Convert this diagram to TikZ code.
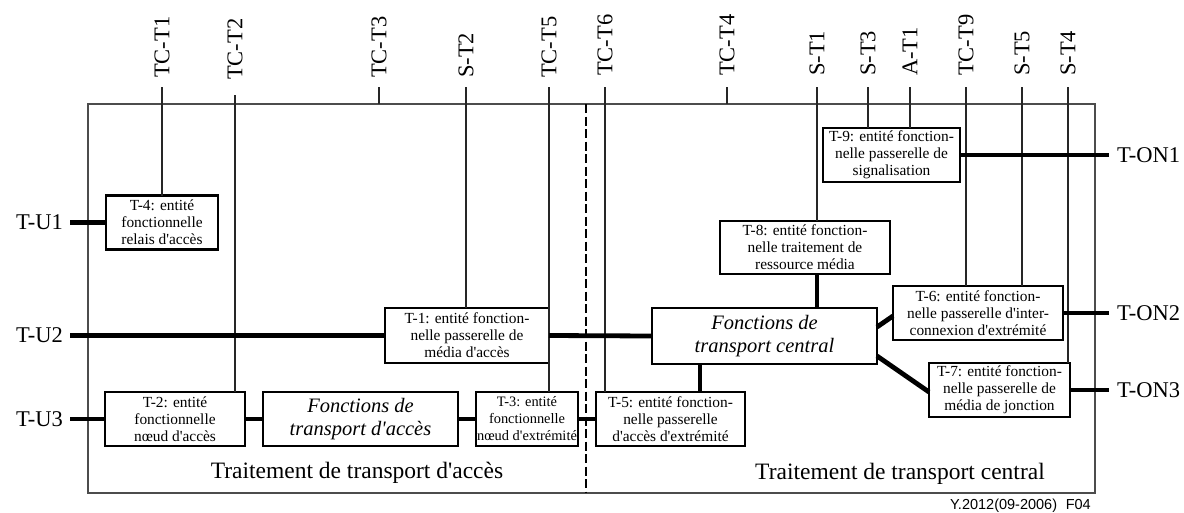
\documentclass[tikz,border=0pt]{standalone}
\usepackage{fontspec}
\setmainfont{Liberation Serif}[Ligatures=TeXOff]
\newfontfamily\figsans{Liberation Sans}[Ligatures=TeXOff]
\begin{document}
\begin{tikzpicture}[x=1pt,y=-1pt,
  thinwire/.style={line width=1.2pt, black!85},
  framewire/.style={line width=1.2pt, black!70},
  thickwire/.style={line width=4.8pt},
  divider/.style={line width=2.4pt, dash pattern=on 9pt off 3.5pt},
  fbox/.style={draw, line width=2.6pt, fill=white, inner sep=0pt, outer sep=0pt,
    align=center, minimum height=54pt, font=\fontsize{15.4}{17}\selectfont},
  tbox/.style={fbox, font=\itshape\fontsize{20.5}{22.5}\selectfont},
  toplabel/.style={rotate=90, anchor=west, inner sep=0pt, font=\fontsize{22.5}{24}\selectfont},
  sidelabel/.style={inner sep=0pt, font=\fontsize{22.5}{24}\selectfont},
  arealabel/.style={inner sep=0pt, font=\fontsize{23.5}{26}\selectfont}
]
\useasboundingbox (0,0) rectangle (1184,512);

% outer frame and the access/core divider
\coordinate (fnw) at (88,104);
\coordinate (fse) at (1095,493);
\draw[framewire] (fnw) rectangle (fse);
\coordinate (dtop) at (586,104);
\coordinate (dbot) at (586,493);
\draw[divider] (dtop) -- (dbot);

% functional entities
\node[fbox, minimum width=112pt] (t4) at (162,222.5) {T-4: entité\\fonctionnelle\\relais d'accès};
\node[fbox, minimum width=164pt, minimum height=55pt] (t1) at (467,335.5) {T-1: entité fonction-\\nelle passerelle de\\média d'accès};
\node[fbox, minimum width=140pt] (t2) at (175,419) {T-2: entité\\fonctionnelle\\nœud d'accès};
\node[tbox, minimum width=195pt] (fa) at (360.5,419) {Fonctions de\\transport d'accès};
\node[fbox, minimum width=102pt, font=\fontsize{14.4}{17}\selectfont] (t3) at (527,419) {T-3: entité\\fonctionnelle\\nœud d'extrémité};
\node[fbox, minimum width=149pt] (t5) at (670.5,419) {T-5: entité fonction-\\nelle passerelle\\d'accès d'extrémité};
\node[tbox, minimum width=225pt, minimum height=56pt] (cc) at (764.5,336) {Fonctions de\\transport central};
\node[fbox, minimum width=170pt, minimum height=53pt] (t8) at (805,247.5) {T-8: entité fonction-\\nelle traitement de\\ressource média};
\node[fbox, minimum width=137pt] (t9) at (891.5,155) {T-9: entité fonction-\\nelle passerelle de\\signalisation};
\node[fbox, minimum width=170pt] (t6) at (978,313) {T-6: entité fonction-\\nelle passerelle d'inter-\\connexion d'extrémité};
\node[fbox, minimum width=141pt] (t7) at (999.5,390) {T-7: entité fonction-\\nelle passerelle de\\média de jonction};

% reference points, top edge
\coordinate (tct1) at (162,87);
\coordinate (tct2) at (235,95);
\coordinate (tct3) at (379,87);
\coordinate (st2)  at (466,87);
\coordinate (tct5) at (549,87);
\coordinate (tct6) at (605,87);
\coordinate (tct4) at (727,87);
\coordinate (st1)  at (817,87);
\coordinate (st3)  at (868,87);
\coordinate (at1)  at (910,87);
\coordinate (tct9) at (966,87);
\coordinate (st5)  at (1022,87);
\coordinate (st4)  at (1068,87);

\node[toplabel] (ltct1) at (162,78) {TC-T1};
\node[toplabel] (ltct2) at (235,80) {TC-T2};
\node[toplabel] (ltct3) at (379,78) {TC-T3};
\node[toplabel] (lst2)  at (466,78) {S-T2};
\node[toplabel] (ltct5) at (549,78) {TC-T5};
\node[toplabel] (ltct6) at (605,76) {TC-T6};
\node[toplabel] (ltct4) at (727,76) {TC-T4};
\node[toplabel] (lst1)  at (817,76) {S-T1};
\node[toplabel] (lst3)  at (868,76) {S-T3};
\node[toplabel] (lat1)  at (910,76) {A-T1};
\node[toplabel] (ltct9) at (966,76) {TC-T9};
\node[toplabel] (lst5)  at (1022,76) {S-T5};
\node[toplabel] (lst4)  at (1068,76) {S-T4};

\draw[thinwire] (tct1) -- (tct1 |- t4.north);
\draw[thinwire] (tct2) -- (tct2 |- t2.north);
\draw[thinwire] (tct3) -- (tct3 |- fnw);
\draw[thinwire] (st2)  -- (st2 |- t1.north);
\draw[thinwire] (tct5) -- (tct5 |- t3.north);
\draw[thinwire] (tct6) -- (tct6 |- t5.north);
\draw[thinwire] (tct4) -- (tct4 |- fnw);
\draw[thinwire] (st1)  -- (st1 |- t8.north);
\draw[thinwire] (st3)  -- (st3 |- t9.north);
\draw[thinwire] (at1)  -- (at1 |- t9.north);
\draw[thinwire] (tct9) -- (tct9 |- t6.north);
\draw[thinwire] (st5)  -- (st5 |- t6.north);
\draw[thinwire] (st4)  -- (st4 |- t7.north);

% user side reference points
\coordinate (u1) at (70,222.5);
\coordinate (u2) at (70,335.5);
\coordinate (u3) at (70,419);
\node[sidelabel, anchor=east] (lu1) at (63,222.5) {T-U1};
\node[sidelabel, anchor=east] (lu2) at (63,335.5) {T-U2};
\node[sidelabel, anchor=east] (lu3) at (63,419) {T-U3};
\draw[thickwire] (u1) -- (t4.west);
\draw[thickwire] (u2) -- (t1.west);
\draw[thickwire] (u3) -- (t2.west);

% access transport chain
\draw[thickwire] (t2.east) -- (fa.west);
\draw[thickwire] (fa.east) -- (t3.west);
\draw[thickwire] (t3.east) -- (t5.west);
\draw[thickwire] (t1.east) -- (cc.west);

% core transport links
\draw[thickwire] ([xshift=-64.5pt]cc.south) -- ([xshift=-64.5pt]cc.south |- t5.north);
\draw[thickwire] ([xshift=12pt]t8.south) -- ([xshift=12pt]t8.south |- cc.north);
\draw[thickwire] ([yshift=9pt]cc.east) -- ([yshift=-3pt]t6.west);
\draw[thickwire] ([yshift=-20pt]cc.east) -- ([yshift=-2pt]t7.west);

% other network side reference points
\coordinate (on1) at (1109,155);
\coordinate (on2) at (1109,313);
\coordinate (on3) at (1109,390);
\draw[thickwire] (t9.east) -- (on1);
\draw[thickwire] (t6.east) -- (on2);
\draw[thickwire] (t7.east) -- (on3);
\node[sidelabel, anchor=west] (lon1) at (1117,155) {T-ON1};
\node[sidelabel, anchor=west] (lon2) at (1117,313) {T-ON2};
\node[sidelabel, anchor=west] (lon3) at (1117,390) {T-ON3};

% area captions
\node[arealabel] (acc) at (357,473) {Traitement de transport d'accès};
\node[arealabel] (core) at (900,474) {Traitement de transport central};
\node[inner sep=0pt, anchor=base east, font=\figsans\fontsize{14.5}{16}\selectfont] (ref) at (1091,509) {Y.2012(09-2006)\hspace{0.6em}F04};
\end{tikzpicture}
\end{document}
